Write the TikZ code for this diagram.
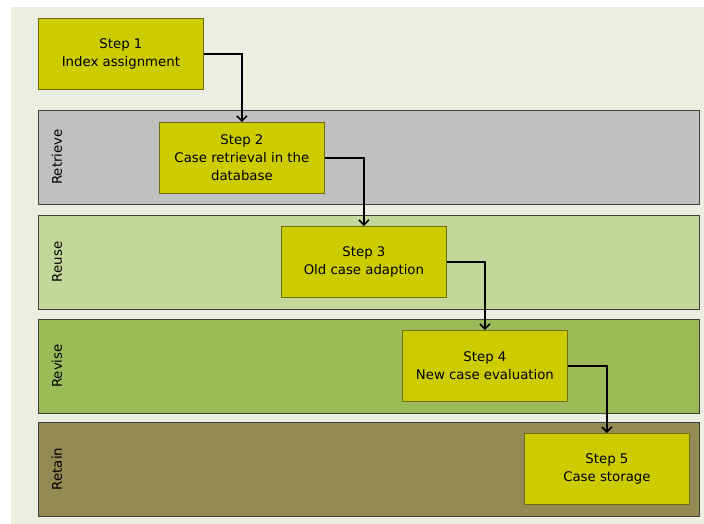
\documentclass[tikz,border=0pt]{standalone}
\usepackage{fontspec}
\setmainfont{DejaVu Sans}
\usetikzlibrary{arrows.meta}
\definecolor{pagebg}{HTML}{ECEEE1}
\definecolor{retrievefill}{HTML}{C0C0C0}
\definecolor{reusefill}{HTML}{C4D79B}
\definecolor{revisefill}{HTML}{9BBB59}
\definecolor{retainfill}{HTML}{948A54}
\definecolor{stepfill}{HTML}{CCCC00}
\definecolor{stepline}{HTML}{6E6E10}
\definecolor{laneline}{HTML}{404040}
\tikzset{
  lane/.style={draw=laneline, line width=1pt, anchor=north west,
    minimum width=661pt, minimum height=94pt, inner sep=0pt},
  lanelabel/.style={rotate=90, font=\fontsize{13.3}{16}\selectfont, inner sep=0pt},
  stepbox/.style={draw=stepline, line width=0.8pt, fill=stepfill, anchor=north west,
    minimum width=165pt, minimum height=71pt, align=center, inner sep=2pt,
    font=\fontsize{13.3}{18}\selectfont},
  flow/.style={line width=1.6pt, -{Straight Barb[length=5pt,width=10pt,line width=1.6pt]}}
}
\begin{document}
\begin{tikzpicture}[x=1pt,y=-1pt]
\useasboundingbox (0,0) rectangle (704,524);
% page background
\fill[pagebg] (11,7) rectangle (704,524);

% swim lanes
\node[lane, fill=retrievefill] (retrieve) at (38,110) {};
\node[lane, fill=reusefill]    (reuse)    at (38,215) {};
\node[lane, fill=revisefill]   (revise)   at (38,319) {};
\node[lane, fill=retainfill]   (retain)   at (38,422) {};

% lane titles
\node[lanelabel] (lretrieve) at (57,157) {Retrieve};
\node[lanelabel] (lreuse)    at (57,262) {Reuse};
\node[lanelabel] (lrevise)   at (57,366) {Revise};
\node[lanelabel] (lretain)   at (57,469) {Retain};

% process steps
\node[stepbox] (s1) at (38,18)   {Step 1\\Index assignment};
\node[stepbox] (s2) at (159,122) {Step 2\\Case retrieval in the\\database};
\node[stepbox] (s3) at (281,226) {Step 3\\Old case adaption};
\node[stepbox] (s4) at (402,330) {Step 4\\New case evaluation};
\node[stepbox] (s5) at (524,433) {Step 5\\Case storage};

% flow between steps
\draw[flow] (s1.east) -| (s2.north);
\draw[flow] (s2.east) -| (s3.north);
\draw[flow] (s3.east) -| (s4.north);
\draw[flow] (s4.east) -| (s5.north);
\end{tikzpicture}
\end{document}
